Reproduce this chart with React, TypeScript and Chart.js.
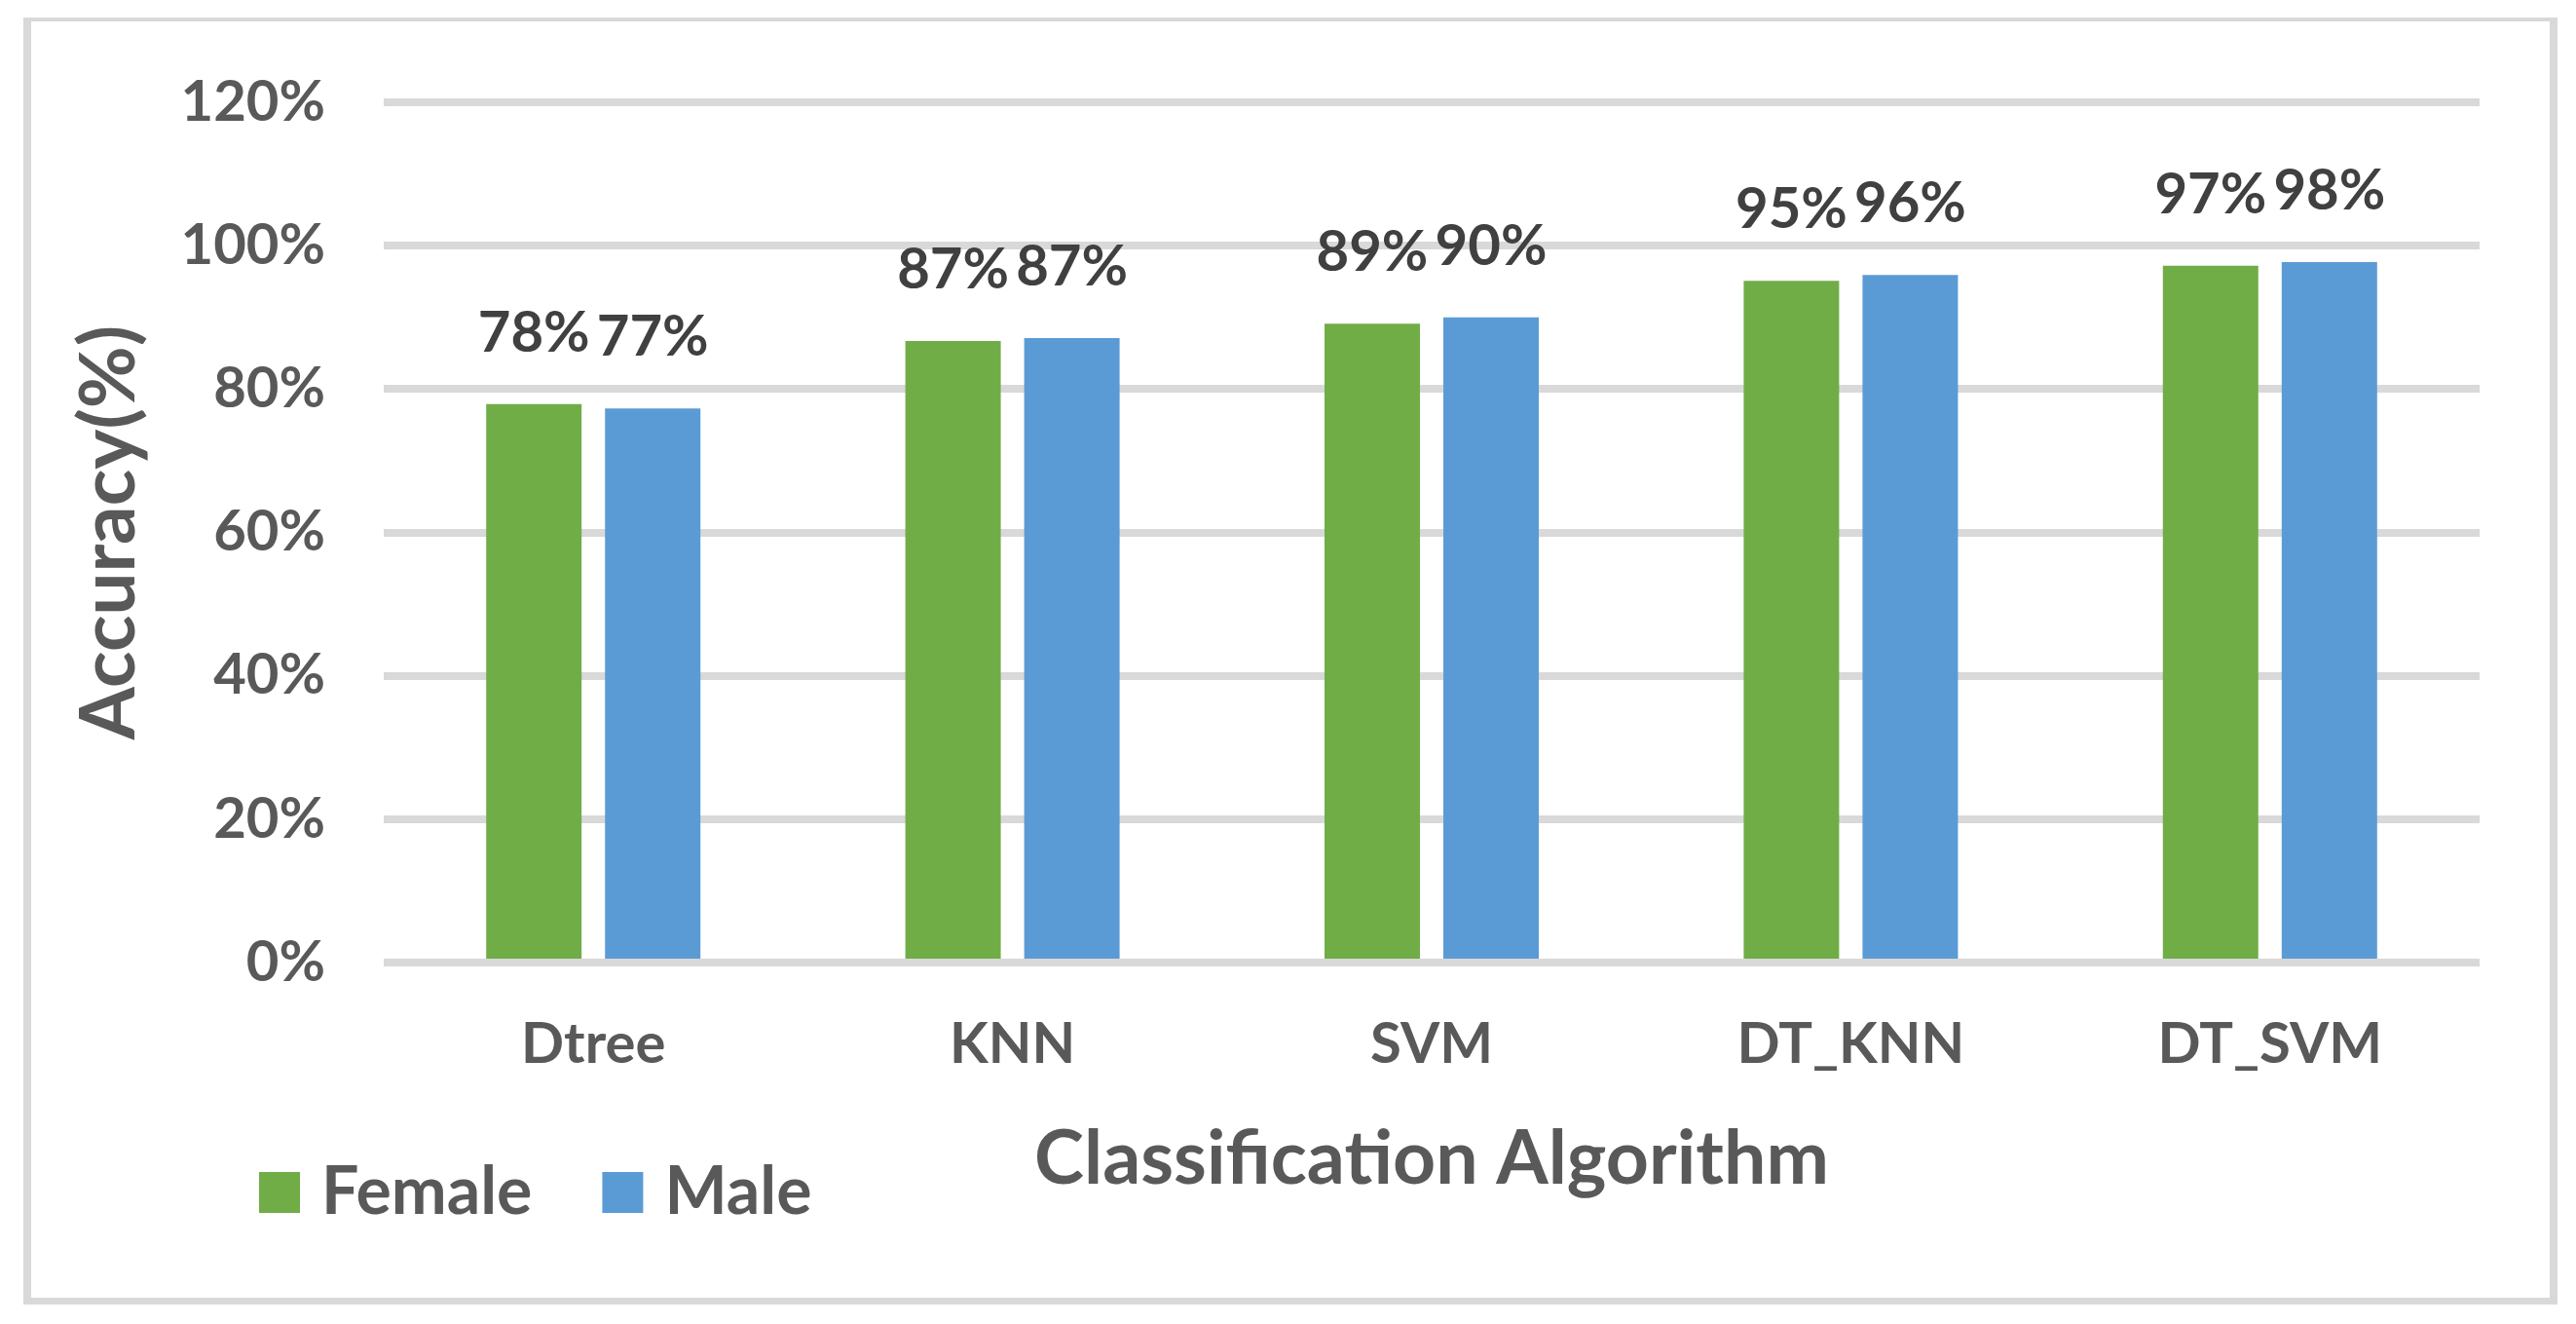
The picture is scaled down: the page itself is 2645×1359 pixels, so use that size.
import React, { useEffect, useRef } from 'react';
import { Chart, registerables } from 'chart.js';

Chart.register(...registerables);

const categories = ['Dtree', 'KNN', 'SVM', 'DT_KNN', 'DT_SVM'];
const femaleValues = [77.9, 86.7, 89.1, 95.1, 97.2];
const maleValues = [77.3, 87.1, 90.0, 95.9, 97.7];
const seriesNames = ['Female', 'Male'];
const seriesColors = ['#70AD47', '#5B9BD5'];
const yTickValues = [0, 20, 40, 60, 80, 100, 120];
const xTitle = 'Classification Algorithm';
const yTitle = 'Accuracy(%)';

const FONT = 'Lato';
const W = 2645;
const H = 1359;

const dataLabelPlugin = {
  id: 'barValueLabels',
  afterDatasetsDraw(chart: any) {
    const ctx = chart.ctx;
    ctx.save();
    ctx.font = `bold 58px ${FONT}`;
    ctx.fillStyle = '#404040';
    ctx.textAlign = 'center';
    ctx.textBaseline = 'alphabetic';
    chart.data.datasets.forEach((ds: any, di: number) => {
      const meta = chart.getDatasetMeta(di);
      meta.data.forEach((el: any, i: number) => {
        const v = ds.data[i];
        ctx.fillText(Math.round(v) + '%', el.x, el.y - 54);
      });
    });
    ctx.restore();
  },
};

const legendPlugin = {
  id: 'customLegend',
  afterDraw(chart: any) {
    const ctx = chart.ctx;
    ctx.save();
    ctx.font = `bold 68px ${FONT}`;
    ctx.textBaseline = 'alphabetic';
    ctx.textAlign = 'left';
    let x = 266;
    chart.data.datasets.forEach((ds: any) => {
      ctx.fillStyle = ds.backgroundColor;
      ctx.fillRect(x, 1203, 42, 42);
      ctx.fillStyle = '#595959';
      ctx.fillText(ds.label, x + 64, 1246);
      x += 64 + ctx.measureText(ds.label).width + 72;
    });
    ctx.restore();
  },
};

export default function App() {
  const canvasRef = useRef<HTMLCanvasElement | null>(null);

  useEffect(() => {
    document.body.style.margin = '0';
    document.body.style.background = '#ffffff';
    const canvas = canvasRef.current;
    if (!canvas) return;
    const chart = new Chart(canvas, {
      type: 'bar',
      data: {
        labels: categories,
        datasets: [
          {
            label: seriesNames[0],
            data: femaleValues,
            backgroundColor: seriesColors[0],
            categoryPercentage: 0.567,
            barPercentage: 0.803,
          },
          {
            label: seriesNames[1],
            data: maleValues,
            backgroundColor: seriesColors[1],
            categoryPercentage: 0.567,
            barPercentage: 0.803,
          },
        ],
      },
      options: {
        responsive: false,
        animation: false,
        devicePixelRatio: 1,
        layout: { padding: { left: 38, right: 99, top: 105, bottom: 0 } },
        plugins: {
          legend: { display: false },
          tooltip: { enabled: false },
          title: { display: false },
        },
        scales: {
          x: {
            grid: { display: false, drawTicks: false },
            border: { display: false },
            ticks: {
              font: { family: FONT, weight: 'bold', size: 58 },
              color: '#595959',
              padding: 49,
            },
            title: {
              display: true,
              text: xTitle,
              font: { family: FONT, weight: 'bold', size: 77 },
              color: '#595959',
              padding: { top: 0, bottom: 123 },
            },
            afterFit: (s: any) => {
              s.height = 371;
            },
          },
          y: {
            min: 0,
            max: 120,
            afterBuildTicks: (s: any) => {
              s.ticks = yTickValues.map((v) => ({ value: v }));
            },
            ticks: {
              callback: (v: any) => v + '%',
              font: { family: FONT, weight: 'bold', size: 58 },
              color: '#595959',
              padding: 60,
            },
            grid: { color: '#D9D9D9', lineWidth: 8, drawTicks: false },
            border: { display: false },
            title: {
              display: true,
              text: yTitle,
              font: { family: FONT, weight: 'bold', size: 78 },
              color: '#595959',
              padding: { top: 28, bottom: 0 },
            },
            afterFit: (s: any) => {
              s.width = 356;
            },
          },
        },
      } as any,
      plugins: [dataLabelPlugin, legendPlugin],
    });
    return () => {
      chart.destroy();
    };
  }, []);

  return (
    <div style={{ position: 'relative', width: W, height: H, background: '#ffffff' }}>
      <canvas
        ref={canvasRef}
        width={W}
        height={H}
        style={{ position: 'absolute', left: 0, top: 0, width: W, height: H }}
      />
      <div
        style={{
          position: 'absolute',
          left: 24,
          top: 18,
          width: 2602,
          height: 1321,
          boxSizing: 'border-box',
          borderStyle: 'solid',
          borderColor: '#D9D9D9',
          borderTopWidth: 4,
          borderLeftWidth: 8,
          borderRightWidth: 8,
          borderBottomWidth: 7,
          pointerEvents: 'none',
        }}
      />
    </div>
  );
}
